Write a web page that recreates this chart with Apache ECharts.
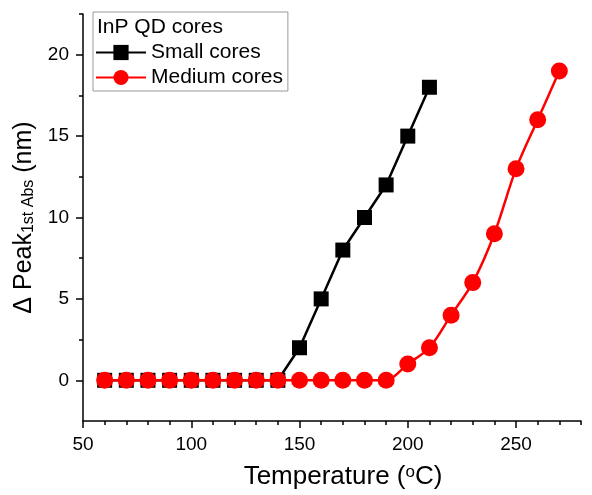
<!DOCTYPE html>
<html lang="en">
<head>
    <meta charset="UTF-8">
    <title>InP QD cores - peak shift</title>
    <script src="https://cdn.jsdelivr.net/npm/echarts@6.0.0/dist/echarts.min.js"></script>
    <style>
        html, body { margin: 0; padding: 0; background: #fff; }
        #chart { width: 592px; height: 495px; }
    </style>
</head>
<body>
    <div id="chart"></div>
    <script>
    // data
    const smallTemp = [60, 70, 80, 90, 100, 110, 120, 130, 140, 150, 160, 170, 180, 190, 200, 210];
    const smallShift = [0, 0, 0, 0, 0, 0, 0, 0, 0, 2, 5, 8, 10, 12, 15, 18];
    const mediumTemp = [60, 70, 80, 90, 100, 110, 120, 130, 140, 150, 160, 170, 180, 190, 200, 210, 220, 230, 240, 250, 260, 270];
    const mediumShift = [0, 0, 0, 0, 0, 0, 0, 0, 0, 0, 0, 0, 0, 0, 1, 2, 4, 6, 9, 13, 16, 19];

    const xTicks = [50, 100, 150, 200, 250];
    const xMinorTicks = [60, 70, 80, 90, 110, 120, 130, 140, 160, 170, 180, 190, 210, 220, 230, 240, 260, 270, 280];
    const yTicks = [0, 5, 10, 15, 20];
    const yMinorTicks = [2.5, 7.5, 12.5, 17.5, 22.5];

    const font = 'Arial, "Liberation Sans", sans-serif';
    const tickStyle = { color: '#000', width: 1.5 };

    function pairs(xs, ys) {
        return xs.map((x, i) => [x, ys[i]]);
    }

    const chart = echarts.init(document.getElementById('chart'));
    chart.setOption({
        animation: false,
        backgroundColor: '#fff',
        title: {
            text: 'InP QD cores',
            left: 97, top: 17, padding: 0,
            textStyle: { fontFamily: font, fontSize: 21, fontWeight: 'normal', color: '#000' }
        },
        legend: {
            orient: 'vertical',
            left: 93, top: 12,
            padding: [30, 5, 3, 2],
            itemGap: 4,
            itemWidth: 50, itemHeight: 19,
            borderColor: '#999', borderWidth: 1,
            textStyle: { fontFamily: font, fontSize: 21, color: '#000' },
            data: ['Small cores', 'Medium cores']
        },
        grid: { left: 83, top: 14, right: 11, bottom: 71 },
        xAxis: [{
            type: 'value', min: 50, max: 280,
            name: 'Temperature ({sup|o}C)',
            nameLocation: 'middle', nameGap: 43,
            nameTextStyle: {
                fontFamily: font, fontSize: 26, color: '#000',
                padding: [0, 0, 0, 22],
                rich: { sup: { fontFamily: font, fontSize: 17, color: '#000', verticalAlign: 'top', padding: [0, 0, 9, 0] } }
            },
            axisLine: { onZero: false, lineStyle: { color: '#000', width: 1.5 } },
            axisTick: { inside: false, customValues: xTicks, length: 7, lineStyle: tickStyle },
            axisLabel: { customValues: xTicks, margin: 14, fontFamily: font, fontSize: 19, color: '#000' },
            splitLine: { show: false }
        }, {
            // minor ticks only
            type: 'value', min: 50, max: 280, position: 'bottom',
            axisLine: { show: false, onZero: false },
            axisTick: { show: true, inside: false, customValues: xMinorTicks, length: 4, lineStyle: tickStyle },
            axisLabel: { show: false },
            splitLine: { show: false }
        }],
        yAxis: [{
            type: 'value', min: -2.5, max: 22.5,
            name: '\u0394 Peak{sub|1st Abs} (nm)',
            nameLocation: 'middle', nameGap: 37, nameRotate: 90,
            nameTextStyle: {
                fontFamily: font, fontSize: 25, color: '#000',
                rich: { sub: { fontFamily: font, fontSize: 16, color: '#000', verticalAlign: 'bottom', padding: [9, 0, 0, 0] } }
            },
            axisLine: { show: true, onZero: false, lineStyle: { color: '#000', width: 1.5 } },
            axisTick: { show: true, inside: false, customValues: yTicks, length: 7, lineStyle: tickStyle },
            axisLabel: { customValues: yTicks, margin: 14, fontFamily: font, fontSize: 19, color: '#000' },
            splitLine: { show: false }
        }, {
            // minor ticks only
            type: 'value', min: -2.5, max: 22.5, position: 'left',
            axisLine: { show: false, onZero: false },
            axisTick: { show: true, inside: false, customValues: yMinorTicks, length: 4, lineStyle: tickStyle },
            axisLabel: { show: false },
            splitLine: { show: false }
        }],
        series: [{
            name: 'Small cores',
            type: 'line',
            data: pairs(smallTemp, smallShift),
            symbol: 'rect', symbolSize: 15,
            itemStyle: { color: '#000' },
            lineStyle: { color: '#000', width: 2.5 }
        }, {
            name: 'Medium cores',
            type: 'line',
            data: pairs(mediumTemp, mediumShift),
            symbol: 'circle', symbolSize: 17,
            smooth: 0.3,
            itemStyle: { color: '#ff0000' },
            lineStyle: { color: '#ff0000', width: 2.5 }
        }]
    });
    </script>
</body>
</html>
